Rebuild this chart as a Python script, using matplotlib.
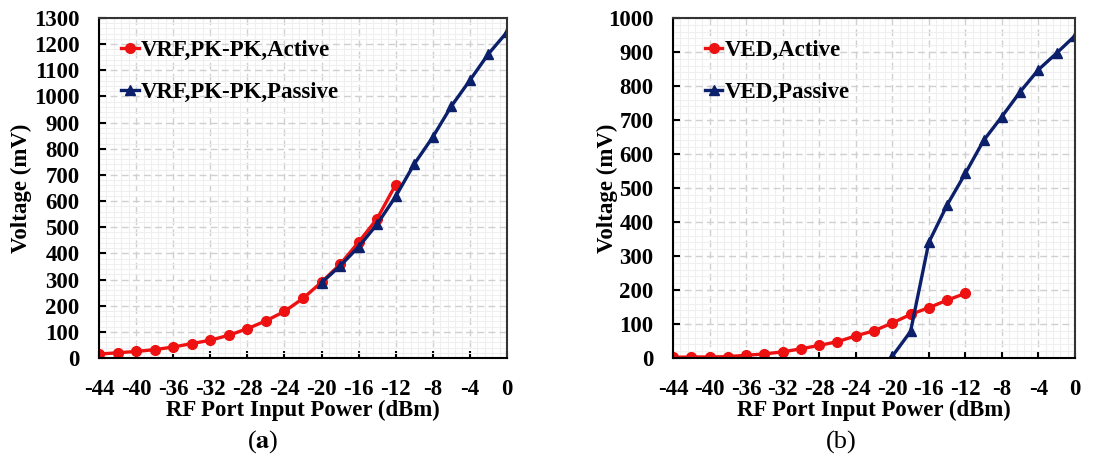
import numpy as np
import matplotlib
matplotlib.use("Agg")
import matplotlib.pyplot as plt
from matplotlib.ticker import MultipleLocator, AutoMinorLocator

plt.rcParams['font.family'] = ['Liberation Serif', 'DejaVu Serif']
plt.rcParams['font.weight'] = 'bold'
plt.rcParams['axes.unicode_minus'] = False
plt.rcParams['mathtext.fontset'] = 'stix'

# input power (dBm)
x_active = [-44, -42, -40, -38, -36, -34, -32, -30, -28, -26, -24, -22, -20, -18, -16, -14, -12]
x_passive = [-20, -18, -16, -14, -12, -10, -8, -6, -4, -2, 0]

# (a) peak-to-peak RF voltage (mV)
vrf_active = [15, 20, 25, 32, 42, 55, 68, 87, 112, 142, 178, 228, 290, 358, 443, 533, 663]
vrf_passive = [288, 352, 425, 512, 618, 742, 845, 963, 1062, 1163, 1246]

# (b) envelope detector voltage (mV)
ved_active = [2, 3, 3, 4, 8, 12, 18, 27, 37, 48, 65, 80, 103, 128, 148, 170, 190]
ved_passive = [5, 78, 340, 450, 543, 640, 710, 783, 848, 897, 948]

xticks = list(range(-44, 1, 4))
RED = "#ee1111"
BLUE = "#0b1f6b"
FS = 16.5

fig = plt.figure(figsize=(11.05, 4.59), dpi=100)
ax1 = fig.add_axes([99 / 1105, 1 - 358 / 459, 408 / 1105, 340 / 459])
ax2 = fig.add_axes([673 / 1105, 1 - 358 / 459, 402 / 1105, 340 / 459])


def style(ax, ymax, ystep, ylabel_x):
    ax.set_xlim(-44, 0)
    ax.set_ylim(0, ymax)
    ax.set_xticks(xticks)
    ax.yaxis.set_major_locator(MultipleLocator(ystep))
    ax.xaxis.set_minor_locator(AutoMinorLocator(5))
    ax.yaxis.set_minor_locator(AutoMinorLocator(5))
    ax.grid(which="minor", color="#efefef", lw=0.8, ls="-")
    ax.grid(which="major", color="#d0d0d0", lw=1.0, ls=(0, (5, 3)))
    ax.set_axisbelow(True)
    ax.tick_params(which="major", direction="in", length=5, width=1.5,
                   labelsize=FS)
    ax.tick_params(axis="x", pad=15)
    ax.tick_params(axis="y", pad=14)
    ax.tick_params(which="minor", length=0)
    for s in ax.spines.values():
        s.set_linewidth(1.5)
    ax.spines["top"].set_color("#333333")
    ax.spines["right"].set_color("#333333")
    ax.set_xlabel("RF Port Input Power (dBm)", fontsize=FS, fontweight="bold", labelpad=0)
    ax.set_ylabel("Voltage (mV)", fontsize=FS, fontweight="bold")
    ax.yaxis.set_label_coords(ylabel_x, 0.5)
    for t in ax.get_xticklabels() + ax.get_yticklabels():
        t.set_fontweight("bold")


ax1.plot(x_active, vrf_active, color=RED, lw=2.4, marker="o", ms=7,
         label="VRF,PK-PK,Active")
ax1.plot(x_passive, vrf_passive, color=BLUE, lw=2.4, marker="^", ms=7,
         label="VRF,PK-PK,Passive")
style(ax1, 1300, 100, -0.165)

ax2.plot(x_active, ved_active, color=RED, lw=2.4, marker="o", ms=7,
         label="VED,Active")
ax2.plot(x_passive, ved_passive, color=BLUE, lw=2.4, marker="^", ms=7,
         label="VED,Passive")
style(ax2, 1000, 100, -0.137)

for ax, lx in ((ax1, 0.055), (ax2, 0.08)):
    ax.legend(loc="upper left", bbox_to_anchor=(lx, 0.935), frameon=False,
              fontsize=FS, handlelength=0.75, handletextpad=0.1,
              labelspacing=0.9, borderaxespad=0, borderpad=0)

fig.text(263 / 1105, 1 - 442 / 459, r"($\mathbf{a}$)", fontsize=19,
         fontweight="normal", ha="center", va="center")
fig.text(841 / 1105, 1 - 442 / 459, "(b)", fontsize=19,
         fontweight="normal", ha="center", va="center")

fig.savefig("out.png", dpi=100)
